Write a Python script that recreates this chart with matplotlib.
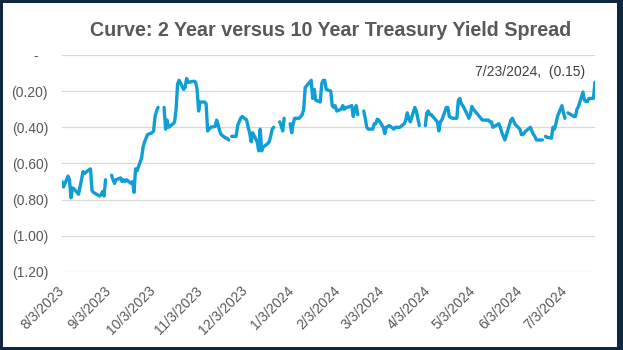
import numpy as np
import pandas as pd
import matplotlib
matplotlib.use("Agg")
import matplotlib.pyplot as plt
from matplotlib.patches import Rectangle
from matplotlib.transforms import ScaledTranslation

plt.rcParams['font.family'] = ['Liberation Sans', 'DejaVu Sans']

nan = np.nan

# 2s10s spread (10Y minus 2Y Treasury yield, percentage points), one value per
# business day; nan marks market holidays that show as breaks in the line.
aug_2023 = [-0.70, -0.73, -0.67, -0.69, -0.79, -0.735, -0.74, -0.77, -0.73, -0.69,
            -0.645, -0.655, -0.635, -0.63, -0.75, -0.76, -0.765, -0.78, -0.775,
            -0.755, -0.78]
sep_2023 = [-0.69, nan, -0.665, -0.69, -0.71, -0.69, -0.68, -0.70, -0.69, -0.70,
            -0.69, -0.71, -0.70, -0.76, -0.63, -0.64, -0.57, -0.51, -0.48, -0.46,
            -0.44]
oct_2023 = [-0.43, -0.42, -0.34, -0.31, -0.29, nan, -0.29, -0.41, -0.36, -0.40,
            -0.38, -0.37, -0.30, -0.16, -0.14, -0.19, -0.18, -0.13, -0.15, -0.15,
            -0.145, -0.15]
nov_2023 = [-0.19, -0.31, -0.26, -0.26, -0.27, -0.42, -0.41, -0.40, -0.395, -0.36,
            -0.385, -0.42, -0.44, -0.46, -0.46, -0.47, nan, -0.45, -0.45, -0.39,
            -0.37, -0.35]
dec_2023 = [-0.34, -0.36, -0.40, -0.43, -0.48, -0.43, -0.48, -0.53, -0.41, -0.53,
            -0.51, -0.49, -0.48, -0.45, -0.41, -0.40, nan, -0.37, -0.39, -0.42,
            -0.35]
jan_2024 = [nan, -0.38, -0.43, -0.38, -0.35, -0.35, -0.34, -0.33, -0.30, -0.18,
            -0.14, -0.24, -0.19, -0.25, -0.26, -0.16, -0.14, -0.14, -0.19, -0.20,
            -0.28, -0.29]
feb_2024 = [-0.28, -0.31, -0.30, -0.28, -0.30, -0.29, -0.29, -0.28, -0.34, -0.30,
            -0.28, -0.33, nan, -0.31, -0.35, -0.40, -0.41, -0.41, -0.38, -0.38,
            -0.355]
mar_2024 = [-0.36, -0.40, -0.435, -0.40, -0.395, -0.39, -0.41, -0.40, -0.40, -0.40,
            -0.40, -0.38, -0.36, -0.32, -0.35, -0.37, -0.29, -0.31, -0.35, -0.39,
            nan]
apr_2024 = [-0.39, -0.32, -0.31, -0.33, -0.33, -0.36, -0.37, -0.42, -0.37, -0.36,
            -0.29, -0.29, -0.34, -0.345, -0.35, -0.35, -0.25, -0.24, -0.27, -0.28,
            -0.33, -0.35]
may_2024 = [-0.33, -0.285, -0.30, -0.33, -0.34, -0.35, -0.36, -0.36, -0.36, -0.37,
            -0.37, -0.40, -0.395, -0.38, -0.40, -0.43, -0.45, -0.47, -0.36, -0.35,
            -0.37, -0.385]
jun_2024 = [-0.41, -0.44, -0.44, -0.43, -0.42, -0.40, -0.42, -0.44, -0.45, -0.47,
            -0.47, -0.47, nan, -0.45, -0.455, -0.46, -0.40, -0.41, -0.38, -0.34]
jul_2024 = [-0.28, -0.32, -0.35, nan, -0.32, -0.335, -0.34, -0.34, -0.30, -0.285,
            -0.205, -0.25, -0.257, -0.257, -0.24, -0.24, -0.15]

# business days that have no row in the series at all
missing_days = ['2024-01-15', '2024-05-27']

months = [
    ('2023-08-03', '2023-08-31', aug_2023),
    ('2023-09-01', '2023-09-30', sep_2023),
    ('2023-10-01', '2023-10-31', oct_2023),
    ('2023-11-01', '2023-11-30', nov_2023),
    ('2023-12-01', '2023-12-31', dec_2023),
    ('2024-01-01', '2024-01-31', jan_2024),
    ('2024-02-01', '2024-02-29', feb_2024),
    ('2024-03-01', '2024-03-31', mar_2024),
    ('2024-04-01', '2024-04-30', apr_2024),
    ('2024-05-01', '2024-05-31', may_2024),
    ('2024-06-01', '2024-06-30', jun_2024),
    ('2024-07-01', '2024-07-23', jul_2024),
]

tick_labels = ['8/3/2023', '9/3/2023', '10/3/2023', '11/3/2023', '12/3/2023',
               '1/3/2024', '2/3/2024', '3/3/2024', '4/3/2024', '5/3/2024',
               '6/3/2024', '7/3/2024']
tick_dates = pd.to_datetime(tick_labels, format='%m/%d/%Y')

y_ticks = [0.0, -0.2, -0.4, -0.6, -0.8, -1.0, -1.2]

title = 'Curve: 2 Year versus 10 Year Treasury Yield Spread'
end_label = '7/23/2024,  (0.15)'

# assemble the daily series
skip = pd.to_datetime(missing_days)
parts = []
for start, end, vals in months:
    days = pd.bdate_range(start, end)
    days = days[~days.isin(skip)]
    parts.append(pd.Series(vals, index=days))
spread = pd.concat(parts)

line_color = '#0F9ED5'
text_color = '#595959'
grid_color = '#D9D9D9'
frame_color = '#0E2841'

fig = plt.figure(figsize=(6.23, 3.5), dpi=100)
ax = fig.add_axes([0.0995, 0.2229, 0.8555, 0.62])

ax.plot(spread.index, spread.values, color=line_color, lw=2.4,
        solid_joinstyle='round', solid_capstyle='round')

ax.set_xlim(spread.index[0], spread.index[-1])
ax.set_ylim(-1.2, 0.0)
ax.set_yticks(y_ticks)


def acct(v, pos=None):
    if abs(v) < 1e-9:
        return '-'
    return f'({abs(v):.2f})'


ax.yaxis.set_major_formatter(plt.FuncFormatter(acct))
ax.grid(axis='y', color=grid_color, lw=0.9)
ax.set_axisbelow(True)
for s in ax.spines.values():
    s.set_visible(False)

ax.tick_params(axis='y', length=0, pad=10, labelsize=10, labelcolor=text_color)
ax.set_xticks(tick_dates)
ax.set_xticklabels(tick_labels, rotation=45, ha='right', va='center',
                   rotation_mode='anchor')
ax.tick_params(axis='x', length=0, pad=12, labelsize=10, labelcolor=text_color)

# the zero label sits a little left, like an accounting-format dash
fig.canvas.draw()
for lbl in ax.get_yticklabels():
    if lbl.get_text() == '-':
        lbl.set_transform(lbl.get_transform() +
                          ScaledTranslation(-0.10, 0, fig.dpi_scale_trans))

ax.annotate(end_label, xy=(spread.index[-1], spread.values[-1]),
            xytext=(-7, 7), textcoords='offset points', ha='right', va='center',
            fontsize=10, color='#404040')

fig.text(0.53, 0.898, title, ha='center', va='baseline', fontsize=14.2,
         fontweight='bold', color=text_color)

# dark frame around the chart
W, H = 623.0, 350.0
for x0, y0, w, h in [(0, 0, 3, H), (0, 0, W, 3), (W - 6, 0, 6, H), (0, H - 3, W, 3)]:
    fig.add_artist(Rectangle((x0 / W, y0 / H), w / W, h / H,
                             transform=fig.transFigure, color=frame_color, lw=0))

fig.savefig('out.png', dpi=100)
